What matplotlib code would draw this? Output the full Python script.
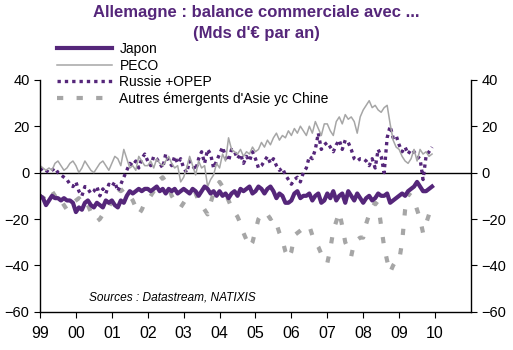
import matplotlib.pyplot as plt
import numpy as np

plt.rcParams['font.family'] = ['Liberation Sans', 'DejaVu Sans']

# monthly data, Jan 1999 -> Dec 2009 (Mds EUR, annualised)
japon = [
    -10, -11, -14, -12, -10, -11, -11, -12, -11, -12, -12, -13,
    -17, -15, -16, -13, -12, -14, -15, -13, -14, -15, -12, -13,
    -12, -14, -15, -12, -13, -10, -8, -9, -8, -7, -8, -7,
    -7, -8, -7, -6, -8, -7, -9, -7, -8, -7, -9, -8,
    -7, -8, -9, -7, -8, -10, -8, -6, -7, -9, -8, -10,
    -8, -10, -9, -11, -9, -8, -10, -7, -8, -7, -6, -9,
    -8, -6, -7, -9, -7, -6, -8, -11, -9, -10, -13, -13,
    -12, -9, -8, -11, -10, -10, -9, -12, -10, -9, -13, -12,
    -9, -11, -8, -12, -10, -9, -13, -8, -10, -12, -9, -11,
    -13, -11, -10, -12, -11, -9, -10, -10, -9, -13, -12, -11,
    -10, -9, -10, -8, -7, -6, -4, -6, -8, -8, -7, -6,
]
peco = [
    3, 2, 1, 2, 1, 4, 5, 3, 1, 2, 4, 5,
    3, 0, 2, 5, 3, 1, 0, 2, 4, 5, 3, 1,
    4, 7, 6, 3, 10, 6, 2, 3, 1, 7, 5, 3,
    3, 5, 2, 6, 4, 3, 5, 7, 4, 2, 3, -4,
    -2, 2, 7, 3, -1, 5, 2, 3, -6, -3, -1, 4,
    2, 8, 5, 15, 10, 9, 8, 10, 7, 9, 8, 11,
    9, 10, 13, 11, 14, 12, 15, 17, 14, 16, 15, 18,
    16, 19, 17, 20, 18, 16, 20, 17, 22, 19, 16, 21,
    21, 18, 16, 22, 24, 21, 25, 23, 24, 22, 17, 24,
    27, 29, 31, 28, 29, 27, 26, 28, 29, 21, 14, 11,
    10, 7, 5, 4, 6, 10, 5, 10, 8, 9, 7, 8,
]
russie_opep = [
    1, 2, 1, 0, 1, 2, 0, -1, -2, -3, -5, -6,
    -4, -8, -10, -6, -7, -9, -8, -6, -10, -7, -9, -5,
    -6, -4, -8, -5, -2, 1, 4, 3, 5, 2, 6, 8,
    5, 3, 7, 6, 4, 2, 8, 5, 3, 7, 4, 6,
    2, 0, 5, 3, 1, 6, 9, 4, 10, 8, 2, 5,
    8, 11, 7, 5, 10, 9, 6, 8, 4, 7, 5, 9,
    6, 2, 3, 5, 7, 4, 6, 3, 1, 2, -1, -3,
    -5, -3, -2, -4, 0, 2, 7, 6, 10, 17, 10, 12,
    13, 11, 9, 12, 14, 10, 14, 13, 10, 6, 5, 6,
    6, 5, 3, 6, 2, 10, 7, 0, 15, 20, 15, 16,
    12, 9, 11, 8, 10, 9, 7, 6, -3, 7, 9, 11,
]
asie = [
    -10, -11, -9, -7, -8, -10, -13, -12, -14, -16, -15, -13,
    -12, -11, -13, -15, -14, -17, -19, -21, -20, -18, -17, -15,
    -12, -9, -7, -8, -7, -8, -10, -12, -15, -18, -16, -13,
    -12, -10, -8, -6, -3, -2, -4, -6, -10, -12, -14, -15,
    -13, -11, -10, -10, -9, -12, -14, -16, -18, -13, -9, -6,
    -4, -6, -9, -12, -15, -17, -19, -22, -26, -29, -32, -30,
    -25, -20, -18, -17, -18, -20, -19, -22, -26, -29, -34, -37,
    -34, -27, -26, -25, -24, -24, -23, -27, -30, -32, -35, -38,
    -39, -33, -25, -21, -17, -23, -30, -33, -36, -30, -29, -28,
    -28, -22, -18, -15, -13, -14, -23, -32, -38, -43, -40, -38,
    -38, -30, -16, -9, -10, -12, -16, -20, -26, -22, -18, -17,
]
years = list(range(1999, 2011))
year_labels = ['99', '00', '01', '02', '03', '04', '05', '06', '07', '08', '09', '10']

t = 1999 + np.arange(len(japon)) / 12.0

purple = '#55267a'
grey = '#a6a6a6'

fig = plt.figure(figsize=(5.13, 3.5), dpi=100)
ax = fig.add_axes([0.078, 0.109, 0.840, 0.663])

ax.axhline(0, color='black', lw=1, zorder=1)
l4, = ax.plot(t, asie, color=grey, lw=3, dashes=(1.5, 3.2), label="Autres émergents d'Asie yc Chine")
l3, = ax.plot(t, russie_opep, color=purple, lw=2.4, dashes=(1, 1.2), label='Russie +OPEP')
l2, = ax.plot(t, peco, color=grey, lw=1.1, label='PECO')
l1, = ax.plot(t, japon, color=purple, lw=3, label='Japon')

ax.set_xlim(1999, 2011)
ax.set_ylim(-60, 40)
ax.set_xticks(years)
ax.set_xticklabels(year_labels, fontsize=11.5)
ax.set_yticks([-60, -40, -20, 0, 20, 40])
ax.tick_params(axis='y', left=True, right=True, labelleft=True, labelright=True,
               labelsize=10.5, length=4, direction='out')
ax.tick_params(axis='x', length=4, direction='out', pad=6)
ax.spines['top'].set_visible(False)
for s in ['left', 'right', 'bottom']:
    ax.spines[s].set_linewidth(1)

ax.text(2000.36, -54, 'Sources : Datastream, NATIXIS', fontsize=8.6, style='italic', va='center')

fig.text(0.5, 0.965, 'Allemagne : balance commerciale avec ...', ha='center', va='center',
         fontsize=12, fontweight='bold', color=purple)
fig.text(0.5, 0.905, "(Mds d'€ par an)", ha='center', va='center',
         fontsize=12, fontweight='bold', color=purple)

fig.legend(handles=[l1, l2, l3, l4], loc='upper left', bbox_to_anchor=(0.111, 0.88),
           frameon=False, fontsize=10, handlelength=4.0, handletextpad=0.5,
           labelspacing=0.18, borderpad=0, borderaxespad=0)

fig.savefig('out.png', dpi=100)
